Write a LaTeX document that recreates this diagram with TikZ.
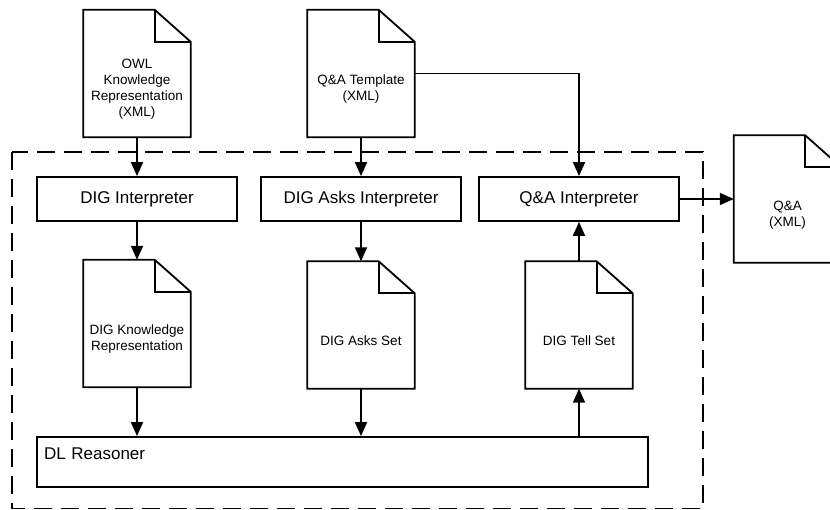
\documentclass[tikz,border=0pt]{standalone}
\usepackage{fontspec}
\newfontfamily\diafont{Liberation Sans}
\usetikzlibrary{arrows.meta}

\tikzset{
  line/.style={line width=1.8pt},
  arrow/.style={line, -{Triangle[length=14pt,width=12pt]}},
  procbox/.style={draw, line, minimum width=200pt, minimum height=44pt,
                  font=\diafont\fontsize{17}{20}\selectfont},
  docbody/.style={minimum width=107pt, minimum height=127pt, inner sep=0pt},
  doctext/.style={align=center, font=\diafont\fontsize{13.5}{16}\selectfont},
  groupbox/.style={line, dash pattern=on 18pt off 9pt},
}

% document with folded corner: name, centre, text
\newcommand{\docfile}[3]{%
  \node[docbody] (#1) at (#2) {};
  \node[doctext] (#1-txt) at ([yshift=-16pt]#1.center) {#3};
  \draw[line] (#1.north west) -- ([xshift=-36pt]#1.north east)
              -- ([yshift=-32pt]#1.north east) -- (#1.south east)
              -- (#1.south west) -- cycle;
  \draw[line] ([xshift=-36pt]#1.north east) |- ([yshift=-32pt]#1.north east);
}

\begin{document}
\begin{tikzpicture}[x=1pt,y=-1pt]
\clip (0,0) rectangle (830,510);
% dashed group
\draw[groupbox] (12,152) rectangle (703,508.5);
% input and output documents
\docfile{owl}{137,73.5}{OWL\\Knowledge\\Representation\\(XML)}
\docfile{tmpl}{361,73.5}{Q\&A Template\\(XML)}
\docfile{qaout}{787.5,199}{Q\&A\\(XML)}
% interpreters
\node[procbox] (digint)  at (137,199) {DIG Interpreter};
\node[procbox] (asksint) at (361,199) {DIG Asks Interpreter};
\node[procbox] (qaint)   at (579,199) {Q\&A Interpreter};
% DIG documents
\docfile{digkr}{137,323.5}{DIG Knowledge\\Representation}
\docfile{asksset}{361,325}{DIG Asks Set}
\docfile{tellset}{579,325}{DIG Tell Set}
% reasoner
\node[procbox, minimum width=611pt, minimum height=50pt, text width=597pt,
      align=left, inner xsep=7pt, inner ysep=8pt, text height=14pt,
      text depth=20pt] (reasoner) at (342.5,462) {DL Reasoner};
% connectors
\draw[arrow] (owl)     -- (digint);
\draw[arrow] (tmpl)    -- (asksint);
\draw[arrow] (tmpl.east) -| (qaint.north);
\draw[arrow] (digint)  -- (digkr);
\draw[arrow] (asksint) -- (asksset);
\draw[arrow] (digkr)   -- (digkr |- reasoner.north);
\draw[arrow] (asksset) -- (asksset |- reasoner.north);
\draw[arrow] (tellset |- reasoner.north) -- (tellset);
\draw[arrow] (tellset) -- (qaint);
\draw[arrow] (qaint)   -- (qaout);
\end{tikzpicture}
\end{document}
